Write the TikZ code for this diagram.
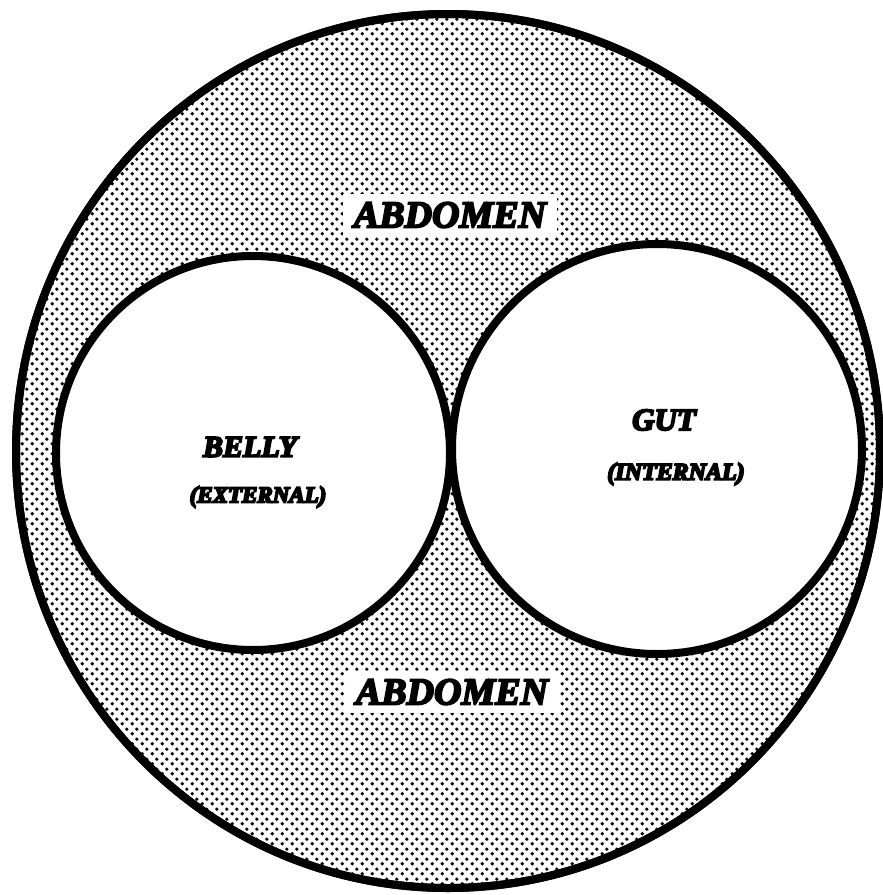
\documentclass[tikz,border=0pt]{standalone}
\usepackage{fontspec}
\newfontfamily\lblfont{Liberation Serif}
\newcommand\heavytext[1]{\special{pdf:literal direct 2 Tr 1.9 w}#1\special{pdf:literal direct 0 Tr}}
\usetikzlibrary{shapes.geometric,patterns.meta}
\pgfdeclarepattern{
  name=abdots,
  type=uncolored,
  bottom left={\pgfpoint{0pt}{0pt}},
  top right={\pgfpoint{10pt}{10pt}},
  tile size={\pgfpoint{10pt}{10pt}},
  code={
    \pgfpathcircle{\pgfpoint{2.5pt}{2.5pt}}{2pt}
    \pgfpathcircle{\pgfpoint{7.5pt}{7.5pt}}{2pt}
    \pgfusepath{fill}
  }
}
\tikzset{
  ring/.style={draw=black, line width=8pt},
  organ/.style={ring, circle, fill=white, inner sep=0pt},
  lbl/.style={inner sep=0pt, font=\lblfont\bfseries\itshape},
  abd/.style={fill=white, inner xsep=11pt, inner ysep=8pt, font=\lblfont\bfseries\itshape\fontsize{38}{40}\selectfont}
}
\begin{document}
\begin{tikzpicture}[x=1pt,y=-1pt]
\useasboundingbox[fill=white] (0,0) rectangle (883,895);
\node[ring, ellipse, fill=white, minimum width=864pt, minimum height=874pt, inner sep=0pt] (abdomen) at (448,451) {};
\node[ellipse, pattern=abdots, pattern color=black, minimum width=864pt, minimum height=874pt, inner sep=0pt] (dots) at (448,451) {};
\node[ring, ellipse, minimum width=864pt, minimum height=874pt, inner sep=0pt] (rim) at (448,451) {};
\node[organ, minimum size=394pt] (belly) at (253,453) {};
\node[organ, minimum size=410pt] (gut) at (657,449) {};
\node[abd] (abdtop) at (450,215) {\heavytext{ABDOMEN}};
\node[abd] (abdbot) at (452,692) {\heavytext{ABDOMEN}};
\node[lbl, font=\lblfont\bfseries\itshape\fontsize{30}{32}\selectfont] (bellylbl) at (250,447) {\heavytext{BELLY}};
\node[lbl, font=\lblfont\bfseries\itshape\fontsize{23}{25}\selectfont] (extlbl) at (258,497) {\heavytext{(EXTERNAL)}};
\node[lbl, font=\lblfont\bfseries\itshape\fontsize{31}{33}\selectfont] (gutlbl) at (664,420) {\heavytext{GUT}};
\node[lbl, font=\lblfont\bfseries\itshape\fontsize{24}{26}\selectfont] (intlbl) at (676,474) {\heavytext{(INTERNAL)}};
\end{tikzpicture}
\end{document}
